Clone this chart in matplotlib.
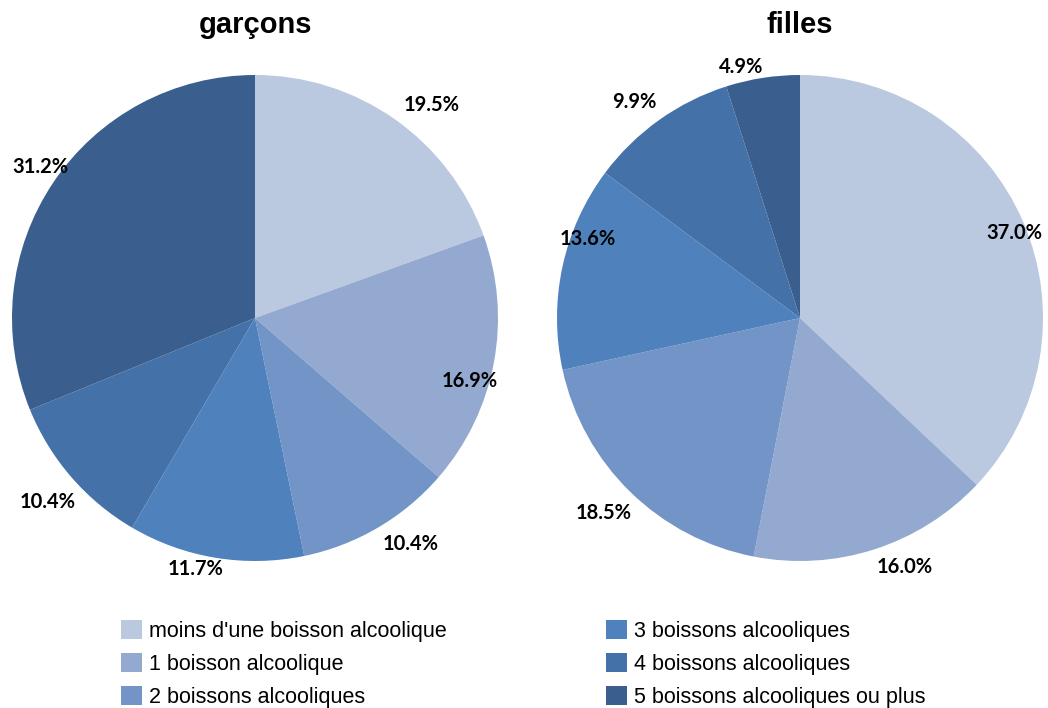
import matplotlib.pyplot as plt
from matplotlib.patches import Patch
import numpy as np

categories = ["moins d'une boisson alcoolique", "1 boisson alcoolique",
              "2 boissons alcooliques", "3 boissons alcooliques",
              "4 boissons alcooliques", "5 boissons alcooliques ou plus"]
garcons = [19.5, 16.9, 10.4, 11.7, 10.4, 31.2]
filles = [37.0, 16.0, 18.5, 13.6, 9.9, 4.9]
titles = ["garçons", "filles"]

colors = ["#BAC8E0", "#94A9D0", "#7394C6", "#4F81BD", "#4472A8", "#3A5F8E"]

# label placement per slice: (distance in radii, angle shift in degrees)
lab_pos = [[(1.14, -4.6), (0.92, -5.8), (1.13, 4.1), (1.06, -4.0), (1.14, 0.6), (1.08, -1.1)],
           [(0.95, -1.6), (1.11, 4.9), (1.14, -0.8), (0.93, -8.3), (1.12, 1.9), (1.06, 4.3)]]

fig = plt.figure(figsize=(10.48, 7.08), dpi=100)
W, H = 1048, 708
R = 243
centers = [(255, 318), (800, 318)]

for k, (vals, title) in enumerate(zip([garcons, filles], titles)):
    cx, cy = centers[k]
    ax = fig.add_axes([(cx - R) / W, (H - cy - R) / H, 2 * R / W, 2 * R / H])
    wedges, _ = ax.pie(vals, colors=colors, startangle=90, counterclock=False,
                       wedgeprops=dict(linewidth=0))
    for w, v, (r, da) in zip(wedges, vals, lab_pos[k]):
        ang = np.deg2rad((w.theta1 + w.theta2) / 2 + da)
        ax.text(r * np.cos(ang), r * np.sin(ang), "%.1f%%" % v,
                ha="center", va="center", fontsize=14.5, fontweight="bold",
                family="Lato")
    ax.set_xlim(-1, 1)
    ax.set_ylim(-1, 1)
    ax.set_aspect("equal")
    fig.text(cx / W, 1 - 25 / H, title, ha="center", va="center",
             fontsize=21, fontweight="bold", family="Liberation Sans")

handles = [Patch(facecolor=c, edgecolor="none") for c in colors]
fig.legend(handles, categories, ncol=2, loc="center", frameon=False,
           bbox_to_anchor=(0.4995, 1 - 664 / H),
           prop=dict(family="Liberation Sans", size=15.5),
           handlelength=0.95, handleheight=0.95, handletextpad=0.35,
           labelspacing=0.52, columnspacing=7.4)

fig.savefig("out.png", dpi=100)
